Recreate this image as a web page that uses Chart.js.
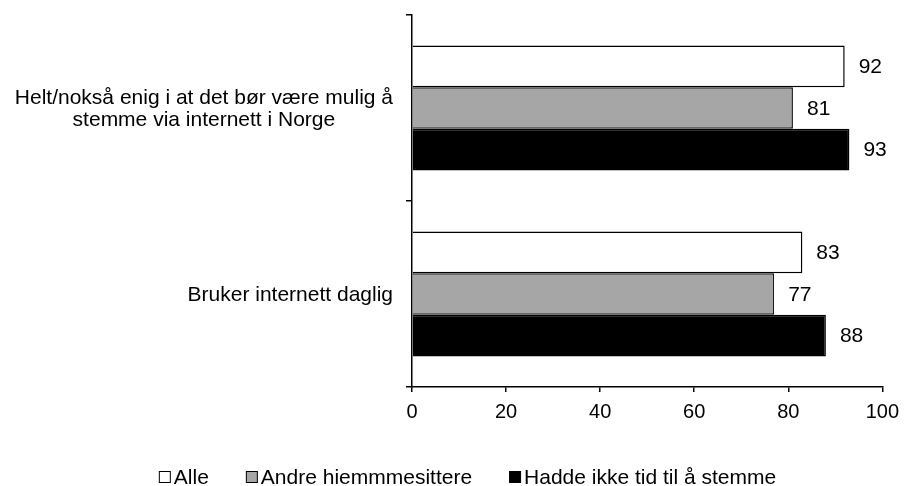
<!DOCTYPE html>
<html>
<head>
<meta charset="utf-8">
<script src="https://cdn.jsdelivr.net/npm/chart.js@4"></script>
<style>
html,body{margin:0;padding:0;background:#fff;}
#wrap{width:907px;height:486px;position:relative;}
</style>
</head>
<body>
<div id="wrap"><canvas id="c" width="907" height="486"></canvas></div>
<script>
const categories = [["Helt/nokså enig i at det bør være mulig å", "stemme via internett i Norge"], ["Bruker internett daglig"]];
const seriesNames = ["Alle", "Andre hiemmmesittere", "Hadde ikke tid til å stemme"];
const alle = [92, 83];
const andre = [81, 77];
const hadde = [93, 88];
const xTicks = [0, 20, 40, 60, 80, 100];

const FONT = "'Liberation Sans', Arial, sans-serif";
const FS = 21;

const labelPlugin = {
  id: 'valueLabels',
  afterDatasetsDraw(chart) {
    const ctx = chart.ctx;
    ctx.save();
    ctx.font = FS + 'px ' + FONT;
    ctx.fillStyle = '#000';
    ctx.textAlign = 'left';
    ctx.textBaseline = 'middle';
    chart.data.datasets.forEach((ds, i) => {
      const meta = chart.getDatasetMeta(i);
      meta.data.forEach((el, j) => {
        ctx.fillText(String(ds.data[j]), el.x + 14, el.y + 1);
      });
    });
    ctx.restore();
  }
};

const catLabelPlugin = {
  id: 'catLabels',
  afterDraw(chart) {
    const ctx = chart.ctx;
    const ys = chart.scales.y;
    ctx.save();
    ctx.font = FS + 'px ' + FONT;
    ctx.fillStyle = '#000';
    ctx.textAlign = 'center';
    ctx.textBaseline = 'middle';
    const right = ys.right - 19;
    const lh = 22;
    categories.forEach((lines, i) => {
      const yc = ys.getPixelForValue(i);
      const w = Math.max(...lines.map(l => ctx.measureText(l).width));
      const cx = right - w / 2;
      const y0 = yc - (lines.length - 1) * lh / 2;
      lines.forEach((l, k) => ctx.fillText(l, cx, y0 + k * lh + 1));
    });
    ctx.restore();
  }
};

const legendPlugin = {
  id: 'customLegend',
  afterDraw(chart) {
    const ctx = chart.ctx;
    ctx.save();
    ctx.font = FS + 'px ' + FONT;
    ctx.textBaseline = 'middle';
    ctx.textAlign = 'left';
    const box = 12, gapBox = 3, gapItem = 37;
    const items = chart.data.datasets.map(ds => ({label: ds.label, fill: ds.backgroundColor, w: box + gapBox + ctx.measureText(ds.label).width}));
    const total = items.reduce((a, b) => a + b.w, 0) + gapItem * (items.length - 1);
    let x = 467.5 - total / 2;
    const y = 477;
    items.forEach(it => {
      ctx.fillStyle = it.fill;
      ctx.fillRect(x + 0.5, y - box / 2 + 0.5, box - 1, box - 1);
      ctx.strokeStyle = '#000';
      ctx.lineWidth = 1;
      ctx.strokeRect(x + 0.5, y - box / 2 + 0.5, box - 1, box - 1);
      ctx.fillStyle = '#000';
      ctx.fillText(it.label, x + box + gapBox, y + 1);
      x += it.w + gapItem;
    });
    ctx.restore();
  }
};

new Chart(document.getElementById('c'), {
  type: 'bar',
  data: {
    labels: categories,
    datasets: [
      {label: seriesNames[0], data: alle, backgroundColor: '#FFFFFF', borderColor: '#000', borderWidth: 1.5},
      {label: seriesNames[1], data: andre, backgroundColor: '#A6A6A6', borderColor: '#1a1a1a', borderWidth: 1.5},
      {label: seriesNames[2], data: hadde, backgroundColor: '#000000', borderColor: '#000', borderWidth: 1.5}
    ]
  },
  options: {
    indexAxis: 'y',
    responsive: false,
    animation: false,
    devicePixelRatio: 1,
    layout: {padding: {top: 15, right: 20, left: 0, bottom: 0}},
    datasets: {bar: {categoryPercentage: 0.672, barPercentage: 1.0}},
    plugins: {legend: {display: false}, tooltip: {enabled: false}},
    scales: {
      y: {
        type: 'category',
        offset: true,
        grid: {display: true, offset: true, drawOnChartArea: false, drawTicks: true, tickLength: 6, color: '#000', lineWidth: 1.5},
        border: {display: true, color: '#000', width: 1.5},
        ticks: {display: false},
        afterFit(s) { s.width = 412; }
      },
      x: {
        min: 0, max: 100,
        afterBuildTicks(s) { s.ticks = xTicks.map(v => ({value: v})); },
        grid: {display: true, drawOnChartArea: false, drawTicks: true, tickLength: 5, color: '#000', lineWidth: 1.5},
        border: {display: true, color: '#000', width: 1.5},
        ticks: {color: '#000', font: {family: FONT, size: 20}, padding: 8, maxRotation: 0},
        afterFit(s) { s.height = 99; }
      }
    }
  },
  plugins: [labelPlugin, catLabelPlugin, legendPlugin]
});
</script>
</body>
</html>
